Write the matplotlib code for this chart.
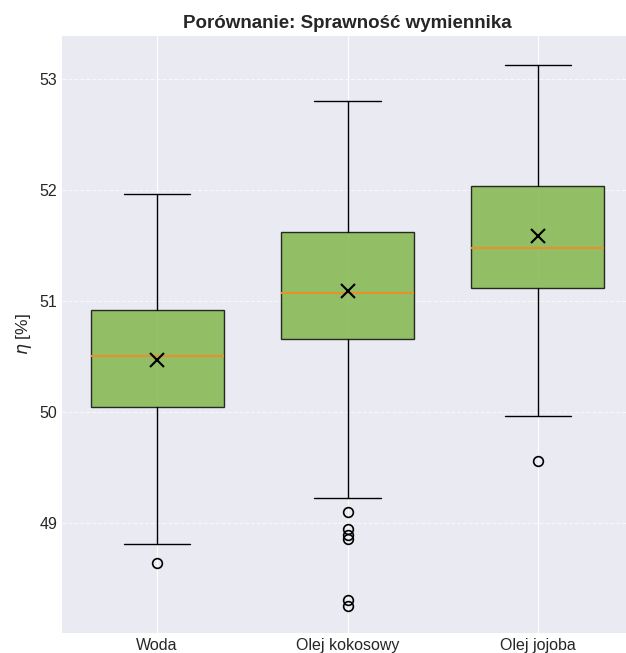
import matplotlib
matplotlib.use("Agg")
import matplotlib.pyplot as plt

plt.style.use("seaborn-v0_8-darkgrid")
plt.rcParams["font.family"] = ["Liberation Sans", "DejaVu Sans"]

labels = ["Woda", "Olej kokosowy", "Olej jojoba"]
whislo = [48.81, 49.23, 49.97]
q1 = [50.05, 50.66, 51.12]
med = [50.51, 51.07, 51.48]
q3 = [50.92, 51.62, 52.04]
whishi = [51.97, 52.80, 53.13]
means = [50.47, 51.09, 51.59]
fliers = [
    [48.64],
    [49.10, 48.95, 48.89, 48.86, 48.31, 48.25],
    [49.56],
]

stats = []
for i, lab in enumerate(labels):
    stats.append(dict(label=lab, whislo=whislo[i], q1=q1[i], med=med[i],
                      q3=q3[i], whishi=whishi[i], mean=means[i],
                      fliers=fliers[i]))

fig = plt.figure(figsize=(6.26, 6.53), dpi=100)
ax = fig.add_axes([62 / 626, 20 / 653, 571 / 626, 597 / 653])

ax.bxp(stats, positions=[1, 2, 3], widths=0.7, patch_artist=True,
       showmeans=True,
       boxprops=dict(facecolor="#7cb342", alpha=0.8, edgecolor="black", linewidth=1),
       medianprops=dict(color="#e8912a", linewidth=1.5),
       meanprops=dict(marker="x", markeredgecolor="black", markersize=10, markeredgewidth=1.5),
       whiskerprops=dict(color="black", linewidth=1),
       capprops=dict(color="black", linewidth=1),
       flierprops=dict(marker="o", markerfacecolor="none", markeredgecolor="black",
                       markersize=7, markeredgewidth=1.2))

ax.set_xlim(0.5, 3.5)
ax.set_ylim(48.01, 53.39)
ax.set_yticks([49, 50, 51, 52, 53])
ax.grid(axis="y", linestyle="--", alpha=0.7)
ax.grid(axis="x", linestyle="-")
ax.tick_params(labelsize=11.5)
ax.set_ylabel(r"$\eta$ [%]", fontsize=12.5)
ax.set_title("Porównanie: Sprawność wymiennika", fontsize=13.5, fontweight="bold")

fig.savefig("out.png", dpi=100)
